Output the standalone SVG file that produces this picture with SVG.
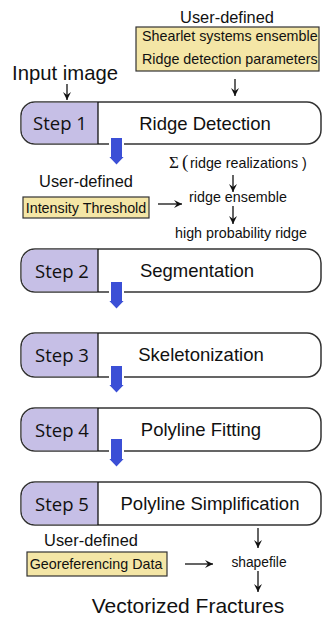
<svg xmlns="http://www.w3.org/2000/svg" width="322" height="624" viewBox="0 0 322 624">
<defs>
<style>
.t{font-family:"Liberation Sans",Arial,sans-serif;fill:#111}
.st{font-family:"Open Sans","Noto Sans",sans-serif;font-size:18.5px;fill:#111}
.m{font-size:18.5px}
.s{font-size:14.3px}
.u{font-size:16.4px}
.box{fill:#fff;stroke:#333;stroke-width:1.5}
.lav{fill:#c6bfe6;stroke:none}
.yb{fill:#f4e6a6;stroke:#333;stroke-width:1.2}
.ln{stroke:#111;stroke-width:1.3;fill:none}
.blue{fill:#3b4fd6;stroke:#fff;stroke-width:2}
</style>
<marker id="ah" markerWidth="10" markerHeight="10" refX="9" refY="5" orient="auto" markerUnits="userSpaceOnUse">
<path d="M1,1 L9,5 L1,9 L4,5 Z" fill="#111"/>
</marker>
</defs>

<g id="input">
<text class="t" x="12" y="80" font-size="20.3">Input image</text>
</g>

<g id="user1">
<text class="t u" x="227" y="23" text-anchor="middle">User-defined</text>
<rect class="yb" x="136" y="27" width="183" height="44"/>
<text class="t s" x="142" y="41">Shearlet systems ensemble</text>
<text class="t s" x="142" y="64">Ridge detection parameters</text>
</g>

<g id="step1">
<rect class="box" x="21" y="102" width="300" height="42" rx="14"/>
<path class="lav" d="M98,102.75 H35 A13.25,13.25 0 0 0 21.75,116 V130 A13.25,13.25 0 0 0 35,143.25 H98 Z"/>
<line class="ln" x1="98" y1="102" x2="98" y2="144" stroke="#333"/>
<text class="st" x="60" y="130" text-anchor="middle">Step 1</text>
<text class="t m" x="205" y="130" text-anchor="middle">Ridge Detection</text>
</g>

<g id="ridge">
<text x="169" y="168" font-family="'Liberation Serif',serif" font-size="17" fill="#111">Σ</text>
<text x="182" y="168" font-family="'Liberation Serif',serif" font-size="19" fill="#111">(</text>
<text class="t s" x="190" y="168">ridge realizations )</text>
<text class="t s" x="238" y="202" text-anchor="middle">ridge ensemble</text>
<text class="t s" x="241" y="238" text-anchor="middle">high probability ridge</text>
</g>

<g id="user2">
<text class="t u" x="86" y="187" text-anchor="middle">User-defined</text>
<rect class="yb" x="23" y="197" width="126" height="21"/>
<text class="t s" x="86" y="212.5" text-anchor="middle">Intensity Threshold</text>
</g>

<g id="step2">
<rect class="box" x="21" y="249" width="300" height="43" rx="14"/>
<path class="lav" d="M98,249.75 H35 A13.25,13.25 0 0 0 21.75,263 V278 A13.25,13.25 0 0 0 35,291.25 H98 Z"/>
<line class="ln" x1="98" y1="249" x2="98" y2="292" stroke="#333"/>
<text class="st" x="62" y="278" text-anchor="middle">Step 2</text>
<text class="t m" x="197" y="277" text-anchor="middle">Segmentation</text>
</g>

<g id="step3">
<rect class="box" x="21" y="333" width="300" height="44" rx="14"/>
<path class="lav" d="M98,333.75 H35 A13.25,13.25 0 0 0 21.75,347 V363 A13.25,13.25 0 0 0 35,376.25 H98 Z"/>
<line class="ln" x1="98" y1="333" x2="98" y2="377" stroke="#333"/>
<text class="st" x="62" y="362" text-anchor="middle">Step 3</text>
<text class="t m" x="201" y="361" text-anchor="middle">Skeletonization</text>
</g>

<g id="step4">
<rect class="box" x="21" y="408" width="300" height="43" rx="14"/>
<path class="lav" d="M98,408.75 H35 A13.25,13.25 0 0 0 21.75,422 V437 A13.25,13.25 0 0 0 35,450.25 H98 Z"/>
<line class="ln" x1="98" y1="408" x2="98" y2="451" stroke="#333"/>
<text class="st" x="62" y="437" text-anchor="middle">Step 4</text>
<text class="t m" x="201" y="436" text-anchor="middle">Polyline Fitting</text>
</g>

<g id="step5">
<rect class="box" x="21" y="482" width="300" height="43" rx="14"/>
<path class="lav" d="M98,482.75 H35 A13.25,13.25 0 0 0 21.75,496 V511 A13.25,13.25 0 0 0 35,524.25 H98 Z"/>
<line class="ln" x1="98" y1="482" x2="98" y2="525" stroke="#333"/>
<text class="st" x="62" y="511" text-anchor="middle">Step 5</text>
<text class="t m" x="210" y="510" text-anchor="middle">Polyline Simplification</text>
</g>

<g id="user3">
<text class="t u" x="91" y="546" text-anchor="middle">User-defined</text>
<rect class="yb" x="27" y="552" width="140" height="24"/>
<text class="t s" x="96" y="568.5" text-anchor="middle">Georeferencing Data</text>
<text class="t" x="259" y="567" font-size="13.8" text-anchor="middle">shapefile</text>
</g>

<g id="output">
<text class="t" x="188" y="613" font-size="21" text-anchor="middle">Vectorized Fractures</text>
</g>

<g id="connectors">
<line class="ln" x1="67" y1="84" x2="67" y2="100" marker-end="url(#ah)"/>
<line class="ln" x1="235" y1="79" x2="235" y2="96" marker-end="url(#ah)"/>
<line class="ln" x1="233" y1="175" x2="233" y2="192" marker-end="url(#ah)"/>
<line class="ln" x1="233" y1="206" x2="233" y2="224" marker-end="url(#ah)"/>
<line class="ln" x1="158" y1="204" x2="182" y2="204" marker-end="url(#ah)"/>
<line class="ln" x1="185" y1="564" x2="213" y2="564" marker-end="url(#ah)"/>
<line class="ln" x1="258" y1="528" x2="258" y2="548" marker-end="url(#ah)"/>
<line class="ln" x1="258" y1="571" x2="258" y2="592" marker-end="url(#ah)"/>
<path class="blue" d="M110,137 H123 V156 H126 L116.5,166 L107,156 H110 Z"/>
<path class="blue" d="M110,281 H123 V300 H126 L116.5,310 L107,300 H110 Z"/>
<path class="blue" d="M110,365 H123 V384 H126 L116.5,394 L107,384 H110 Z"/>
<path class="blue" d="M110,438 H123 V458 H126 L116.5,468 L107,458 H110 Z"/>
</g>
</svg>
